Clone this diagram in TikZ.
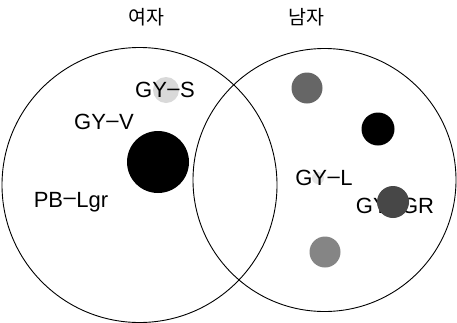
\documentclass[tikz,border=0pt]{standalone}
\usepackage{fontspec}
\setmainfont{Liberation Sans}
\newfontfamily\kr{Noto Sans CJK KR}
\begin{document}
\begin{tikzpicture}[x=1pt,y=-1pt,
  setcircle/.style={circle,draw=black,line width=0.9pt,inner sep=0pt},
  dot/.style={circle,inner sep=0pt,draw=none},
  lbl/.style={font=\fontsize{22}{24}\selectfont,inner sep=0pt},
  title/.style={font=\kr\fontsize{19.5}{21}\selectfont,inner sep=0pt}]
\useasboundingbox (0,0) rectangle (457,322);
\fill[white] (0,0) rectangle (457,322);
% faint speckles
\node[dot,fill=black!15,minimum size=26] (sS) at (166,90) {};
\node[dot,fill=black!10,minimum size=12] (sL) at (318,178) {};
% sets
\node[setcircle,minimum size=275] (women) at (139.5,185) {};
\node[setcircle,minimum size=263] (men) at (324.5,180) {};
\node[title] (tw) at (146,17) {여자};
\node[title] (tm) at (306,17) {남자};
% labels
\node[lbl] (gys) at (165,90) {GY\kern0.5pt\raisebox{0.2ex}{--}\kern0.5pt S};
\node[lbl] (gyv) at (104,122) {GY\kern0.5pt\raisebox{0.2ex}{--}\kern0.5pt V};
\node[lbl] (pb) at (71,202) {PB\kern0.5pt\raisebox{0.2ex}{--}\kern0.5pt Lgr};
\node[lbl] (gyl) at (324,178) {GY\kern0.5pt\raisebox{0.2ex}{--}\kern0.5pt L};
\node[lbl] (gygr) at (395,206) {GY\kern0.5pt\raisebox{0.2ex}{--}\kern0.5pt GR};
% dots
\node[dot,fill=black,minimum size=62] (big) at (158,162) {};
\node[dot,fill=black!60,minimum size=31] (d1) at (307,88) {};
\node[dot,fill=black,minimum size=33] (d2) at (378,129) {};
\node[dot,fill=black!72,minimum size=32] (d3) at (393,202) {};
\node[dot,fill=black!48,minimum size=31] (d4) at (325,252) {};
\end{tikzpicture}
\end{document}
